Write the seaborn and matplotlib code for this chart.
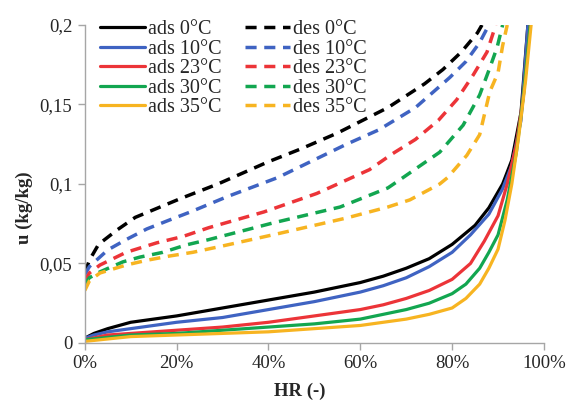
import pandas as pd
import matplotlib
matplotlib.use("Agg")
import matplotlib.pyplot as plt
import seaborn as sns
from matplotlib.ticker import FuncFormatter

# sorption isotherms, HR in %, u in kg/kg
temps = ["0", "10", "23", "30", "35"]
colors = ["#000000", "#3F63C2", "#EC3438", "#12A650", "#F7B421"]

ads_hr = {
    "0":  [0, 2, 5, 10, 20, 30, 40, 50, 60, 65, 70, 75, 80, 85, 88, 91, 93, 95, 96.5],
    "10": [0, 2, 5, 10, 20, 30, 40, 50, 60, 65, 70, 75, 80, 84, 88, 91, 93, 95, 96.5],
    "23": [0, 5, 10, 20, 30, 40, 50, 60, 65, 70, 75, 80, 84, 87, 90, 92, 94, 95.5, 97],
    "30": [0, 10, 20, 30, 40, 50, 60, 65, 70, 75, 80, 83, 86, 88, 90, 92, 94, 95.5, 97],
    "35": [0, 10, 20, 30, 40, 50, 60, 65, 70, 75, 80, 83, 86, 88, 90, 91.5, 93, 94.5, 96, 97.2],
}
ads_u = {
    "0":  [0.003, 0.006, 0.009, 0.013, 0.017, 0.022, 0.027, 0.032, 0.038, 0.042, 0.047, 0.053, 0.062, 0.074, 0.085, 0.100, 0.115, 0.145, 0.200],
    "10": [0.003, 0.005, 0.007, 0.009, 0.013, 0.016, 0.021, 0.026, 0.032, 0.036, 0.041, 0.048, 0.057, 0.068, 0.081, 0.097, 0.112, 0.140, 0.200],
    "23": [0.002, 0.005, 0.006, 0.008, 0.010, 0.013, 0.017, 0.021, 0.024, 0.028, 0.033, 0.040, 0.050, 0.064, 0.080, 0.100, 0.125, 0.155, 0.200],
    "30": [0.002, 0.005, 0.006, 0.008, 0.010, 0.012, 0.015, 0.018, 0.021, 0.025, 0.031, 0.037, 0.047, 0.057, 0.068, 0.090, 0.120, 0.155, 0.200],
    "35": [0.001, 0.004, 0.005, 0.006, 0.007, 0.009, 0.011, 0.013, 0.015, 0.018, 0.022, 0.028, 0.037, 0.047, 0.059, 0.077, 0.100, 0.130, 0.165, 0.200],
}

des_hr = {
    "0":  [0, 1, 3, 7, 11, 16, 21, 29, 40, 47, 55, 66, 74, 78, 82, 85.5, 86.5],
    "10": [0, 1, 5, 9, 13.5, 18.5, 23, 31, 42, 57, 64, 72, 79.5, 83, 86, 88],
    "23": [0, 1, 3.3, 9, 15.7, 21.4, 27, 39, 50.5, 62, 67, 72, 77, 81, 84.6, 87.6, 89.5],
    "30": [0, 1, 3.3, 8.3, 12, 17, 22, 27, 31, 41, 55.6, 66, 69.3, 77.3, 82.4, 86, 88.2, 89.8, 91],
    "35": [0, 1, 3.3, 9, 13.5, 18.5, 23.5, 30, 42.5, 57, 66, 70.8, 77.3, 79, 83.2, 86, 88.2, 90, 91, 92],
}
des_u = {
    "0":  [0.044, 0.052, 0.062, 0.071, 0.079, 0.085, 0.091, 0.100, 0.114, 0.122, 0.132, 0.148, 0.163, 0.172, 0.183, 0.195, 0.200],
    "10": [0.043, 0.048, 0.0585, 0.065, 0.0717, 0.0774, 0.0824, 0.092, 0.104, 0.125, 0.134, 0.148, 0.167, 0.177, 0.189, 0.200],
    "23": [0.039, 0.044, 0.049, 0.057, 0.063, 0.067, 0.0725, 0.0824, 0.094, 0.109, 0.119, 0.128, 0.140, 0.153, 0.1686, 0.183, 0.200],
    "30": [0.037, 0.041, 0.0447, 0.051, 0.054, 0.057, 0.0616, 0.065, 0.068, 0.0755, 0.0855, 0.0975, 0.104, 0.120, 0.137, 0.156, 0.173, 0.186, 0.200],
    "35": [0.033, 0.039, 0.044, 0.049, 0.052, 0.0547, 0.057, 0.061, 0.069, 0.0786, 0.0855, 0.090, 0.100, 0.104, 0.118, 0.131, 0.158, 0.170, 0.187, 0.200],
}

x_ticks = [0, 20, 40, 60, 80, 100]
y_ticks = [0, 0.05, 0.1, 0.15, 0.2]

sns.set_style("white")
plt.rcParams["font.family"] = ["Liberation Serif", "DejaVu Serif"]

fig = plt.figure(figsize=(5.69, 4.03), dpi=100)
ax = fig.add_axes([0.149, 0.149, 0.807, 0.789])

for t, c in zip(temps, colors):
    sns.lineplot(x=ads_hr[t], y=ads_u[t], ax=ax, color=c, lw=2.3,
                 label="ads %s°C" % t)
for t, c in zip(temps, colors):
    sns.lineplot(x=des_hr[t], y=des_u[t], ax=ax, color=c, lw=2.5,
                 linestyle=(0, (3.2, 2.2)), label="des %s°C" % t)

ax.set_xlim(0, 100)
ax.set_ylim(0, 0.2)
ax.set_xticks(x_ticks)
ax.set_yticks(y_ticks)
ax.xaxis.set_major_formatter(FuncFormatter(lambda v, p: "%d%%" % v))
ax.yaxis.set_major_formatter(FuncFormatter(lambda v, p: ("%g" % round(v, 3)).replace(".", ",")))
ax.tick_params(axis="both", which="major", labelsize=13.5, length=5, width=1,
               color="#A6A6A6", direction="out", bottom=True, left=True, pad=4)

for s in ["top", "right"]:
    ax.spines[s].set_visible(False)
for s in ["left", "bottom"]:
    ax.spines[s].set_color("#A6A6A6")
    ax.spines[s].set_linewidth(1)

ax.set_xlabel("HR (-)", fontsize=13.5, fontweight="bold")
ax.set_ylabel("u (kg/kg)", fontsize=13.5, fontweight="bold")
ax.xaxis.set_label_coords(0.468, -0.125)
ax.yaxis.set_label_coords(-0.113, 0.425)

leg = ax.legend(loc="upper left", bbox_to_anchor=(0.015, 1.04), ncol=2,
                frameon=False, fontsize=14.5, handlelength=2.25,
                handletextpad=0.15, columnspacing=1.15, labelspacing=0.02,
                borderaxespad=0)

fig.savefig("out.png", dpi=100)
